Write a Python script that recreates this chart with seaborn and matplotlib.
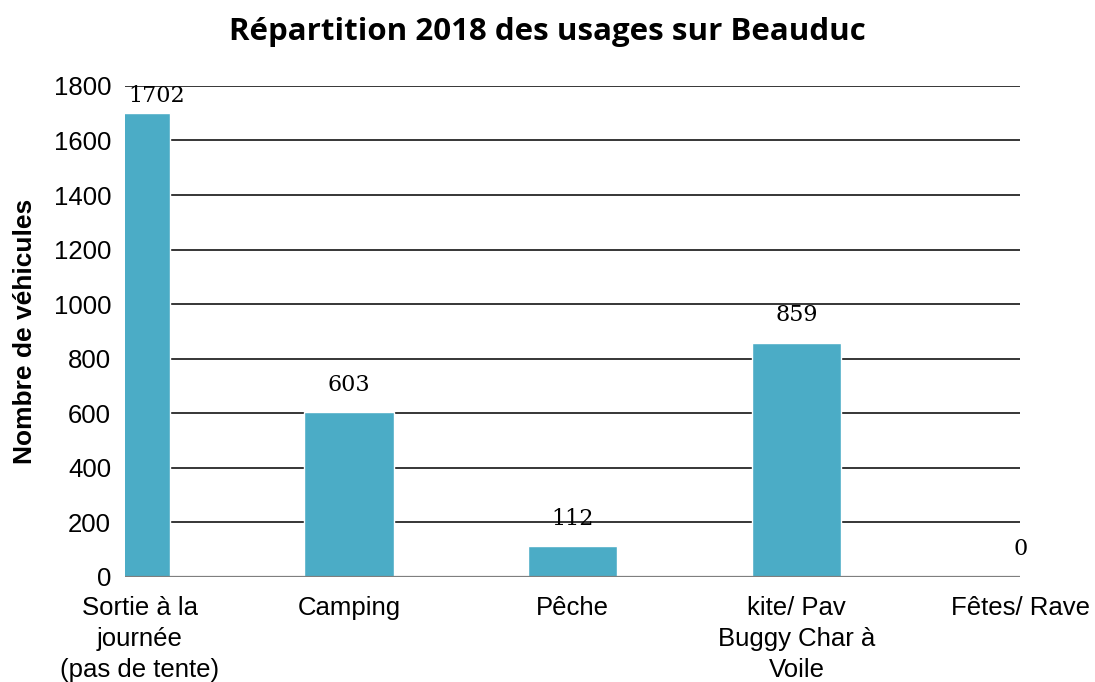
import matplotlib
matplotlib.use("Agg")
import matplotlib.pyplot as plt
import matplotlib.transforms as mtransforms
import seaborn as sns
import pandas as pd

categories = ["Sortie à la\njournée\n(pas de tente)", "Camping", "Pêche",
              "kite/ Pav\nBuggy Char à\nVoile", "Fêtes/ Rave"]
vehicules = [1702, 603, 112, 859, 0]
yticks = [0, 200, 400, 600, 800, 1000, 1200, 1400, 1600, 1800]

df = pd.DataFrame({"usage": categories, "vehicules": vehicules})

sns.set_theme(style="white")
plt.rcParams["font.family"] = ["Liberation Sans", "DejaVu Sans"]
plt.rcParams["text.color"] = "#000000"
plt.rcParams["axes.labelcolor"] = "#000000"

fig = plt.figure(figsize=(10.95, 6.82), dpi=100)
ax = fig.add_axes([0.1142, 0.154, 0.8175, 0.720])

sns.barplot(data=df, x="usage", y="vehicules", color="#4BACC6",
            width=0.4, saturation=1, ax=ax, zorder=3)

ax.set_xlim(0, len(categories) - 1)
ax.set_ylim(0, 1800)
ax.set_yticks(yticks)
ax.set_yticklabels([str(t) for t in yticks], fontsize=18.5, color="#000000")
ax.set_xticks(range(len(categories)))
ax.set_xticklabels(categories, fontsize=18.5, linespacing=1.35, color="#000000")
ax.tick_params(axis="y", length=0, pad=10)
ax.tick_params(axis="x", length=0, pad=14)

# keep the first, multi-line category label clear of the y tick labels
first = ax.get_xticklabels()[0]
first.set_transform(first.get_transform() +
                    mtransforms.ScaledTranslation(0.15, 0, fig.dpi_scale_trans))

for y in yticks[1:]:
    ax.axhline(y, color="#000000", lw=1.1, zorder=1)
ax.axhline(0, color="#7f7f7f", lw=1.6, zorder=4)

for s in ax.spines.values():
    s.set_visible(False)

for i, v in enumerate(vehicules):
    near_top = v > 0.9 * 1800
    ax.annotate(str(v), (i, v), xytext=(2 if i == 0 else 0, 4 if near_top else 12),
                textcoords="offset points",
                ha="left" if i == 0 else "center", va="bottom",
                fontsize=16, family="DejaVu Serif", color="#000000",
                annotation_clip=False, zorder=5)

ax.set_xlabel("")
ax.set_ylabel("Nombre de véhicules", fontsize=19, fontweight="bold",
              labelpad=12, color="#000000")
fig.suptitle("Répartition 2018 des usages sur Beauduc", fontsize=22.5,
             fontweight="bold", family=["Open Sans", "DejaVu Sans"],
             color="#000000", y=0.975)

fig.savefig("out.png", dpi=100)
